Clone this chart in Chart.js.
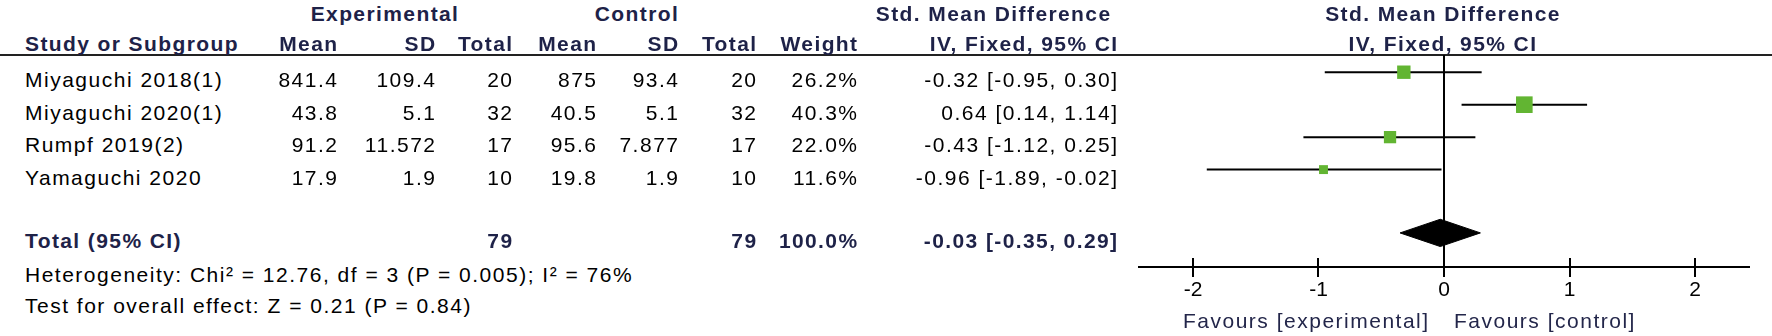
<!DOCTYPE html>
<html lang="en">
  <head>
    <meta charset="UTF-8" />
    <title>Std. Mean Difference forest plot</title>
    <style>
      html, body { margin: 0; padding: 0; background: #fff; }
      #wrap { position: relative; width: 1772px; height: 336px; overflow: hidden; }
      #plot { position: absolute; left: 1100px; top: 0; }
      .t {
        position: absolute;
        white-space: nowrap;
        font: 21px/21px "Liberation Sans", Arial, sans-serif;
        letter-spacing: 1.5px;
        color: #000;
      }
      .b { font-weight: bold; letter-spacing: 1.4px; color: #1e2248; }
      .fav { color: #23264a; }
      .rule { position: absolute; left: 0; top: 54px; width: 1772px; height: 2px; background: #222; }
    </style>
  </head>
  <body>
    <div id="wrap">
      <div class="rule"></div>
      <canvas id="plot" width="672" height="336"></canvas>
    </div>

    <script src="https://cdn.jsdelivr.net/npm/chart.js"></script>
    <script>
      // study rows
      const studies = ["Miyaguchi 2018(1)", "Miyaguchi 2020(1)", "Rumpf 2019(2)", "Yamaguchi 2020"];
      const expMean = [841.4, 43.8, 91.2, 17.9];
      const expSD = [109.4, 5.1, 11.572, 1.9];
      const expTotal = [20, 32, 17, 10];
      const ctlMean = [875, 40.5, 95.6, 19.8];
      const ctlSD = [93.4, 5.1, 7.877, 1.9];
      const ctlTotal = [20, 32, 17, 10];
      const weight = [26.2, 40.3, 22.0, 11.6];
      const smd = [-0.32, 0.64, -0.43, -0.96];
      const ciLow = [-0.95, 0.14, -1.12, -1.89];
      const ciHigh = [0.30, 1.14, 0.25, -0.02];

      // pooled result
      const totalExp = 79;
      const totalCtl = 79;
      const totalWeight = 100.0;
      const totalSmd = -0.03;
      const totalLow = -0.35;
      const totalHigh = 0.29;

      const xTicks = [-2, -1, 0, 1, 2];
      const heterogeneity = "Heterogeneity: Chi\u00b2 = 12.76, df = 3 (P = 0.005); I\u00b2 = 76%";
      const overallTest = "Test for overall effect: Z = 0.21 (P = 0.84)";
      const favoursLeft = "Favours [experimental]";
      const favoursRight = "Favours [control]";

      const W = 1772;
      const wrap = document.getElementById("wrap");

      function put(txt, x, y, align, cls) {
        const d = document.createElement("div");
        d.className = "t" + (cls ? " " + cls : "");
        d.textContent = txt;
        d.style.top = y - 10 + "px";
        if (align === "right") {
          d.style.right = W - x - 1.5 + "px";
        } else if (align === "center") {
          d.style.left = x + "px";
          d.style.transform = "translateX(-50%)";
        } else {
          d.style.left = x + "px";
        }
        wrap.appendChild(d);
      }

      const fmtCI = (m, lo, hi) => m.toFixed(2) + " [" + lo.toFixed(2) + ", " + hi.toFixed(2) + "]";

      // header
      put("Experimental", 385, 13, "center", "b");
      put("Control", 637, 13, "center", "b");
      put("Std. Mean Difference", 1110, 13, "right", "b");
      put("Std. Mean Difference", 1443, 13, "center", "b");
      put("Study or Subgroup", 25, 43, "left", "b");
      put("Mean", 337, 43, "right", "b");
      put("SD", 435, 43, "right", "b");
      put("Total", 512, 43, "right", "b");
      put("Mean", 596, 43, "right", "b");
      put("SD", 678, 43, "right", "b");
      put("Total", 756, 43, "right", "b");
      put("Weight", 857, 43, "right", "b");
      put("IV, Fixed, 95% CI", 1117, 43, "right", "b");
      put("IV, Fixed, 95% CI", 1443, 43, "center", "b");

      // rows
      studies.forEach((s, i) => {
        const y = 79 + i * 32.67;
        put(s, 25, y, "left");
        put(String(expMean[i]), 337, y, "right");
        put(String(expSD[i]), 435, y, "right");
        put(String(expTotal[i]), 512, y, "right");
        put(String(ctlMean[i]), 596, y, "right");
        put(String(ctlSD[i]), 678, y, "right");
        put(String(ctlTotal[i]), 756, y, "right");
        put(weight[i].toFixed(1) + "%", 857, y, "right");
        put(fmtCI(smd[i], ciLow[i], ciHigh[i]), 1117, y, "right");
      });

      put("Total (95% CI)", 25, 240, "left", "b");
      put(String(totalExp), 512, 240, "right", "b");
      put(String(totalCtl), 756, 240, "right", "b");
      put(totalWeight.toFixed(1) + "%", 857, 240, "right", "b");
      put(fmtCI(totalSmd, totalLow, totalHigh), 1117, 240, "right", "b");
      put(heterogeneity, 25, 274, "left");
      put(overallTest, 25, 305, "left");
      put(favoursLeft, 1183, 320, "left", "fav");
      put(favoursRight, 1454, 320, "left", "fav");

      // forest plot
      const totalRow = 4.95;
      const diamondHalf = 0.42;
      const green = "#62b532";

      const datasets = [
        {
          label: "SMD",
          data: smd.map((v, i) => ({ x: v, y: i })),
          pointStyle: "rect",
          pointRadius: weight.map((w) => 1.85 * Math.sqrt(w)),
          pointHoverRadius: weight.map((w) => 1.85 * Math.sqrt(w)),
          backgroundColor: green,
          borderWidth: 0,
          order: 0,
        },
        ...studies.map((s, i) => ({
          type: "line",
          label: s,
          data: [
            { x: ciLow[i], y: i },
            { x: ciHigh[i], y: i },
          ],
          borderColor: "#000",
          borderWidth: 2,
          pointRadius: 0,
          fill: false,
          order: 1,
        })),
        {
          type: "line",
          label: "Total",
          data: [
            { x: totalLow, y: totalRow },
            { x: totalSmd, y: totalRow - diamondHalf },
            { x: totalHigh, y: totalRow },
            { x: totalSmd, y: totalRow + diamondHalf },
            { x: totalLow, y: totalRow },
          ],
          borderColor: "#000",
          backgroundColor: "#000",
          borderWidth: 1,
          pointRadius: 0,
          tension: 0,
          fill: "shape",
          order: 1,
        },
      ];

      const crossTicks = {
        id: "crossTicks",
        afterDraw(chart) {
          const { ctx, chartArea } = chart;
          const xs = chart.scales.x;
          ctx.save();
          ctx.strokeStyle = "#000";
          ctx.lineWidth = 2;
          xTicks.forEach((v) => {
            const px = Math.round(xs.getPixelForValue(v));
            ctx.beginPath();
            ctx.moveTo(px, chartArea.bottom - 9);
            ctx.lineTo(px, chartArea.bottom + 10);
            ctx.stroke();
          });
          ctx.restore();
        },
      };

      new Chart(document.getElementById("plot"), {
        type: "scatter",
        data: { datasets },
        options: {
          responsive: false,
          animation: false,
          layout: { padding: { top: 55, left: 39, right: 23, bottom: 0 } },
          plugins: { legend: { display: false }, tooltip: { enabled: false } },
          scales: {
            x: {
              type: "linear",
              min: -2.43,
              max: 2.43,
              afterBuildTicks: (s) => {
                s.ticks = xTicks.map((v) => ({ value: v }));
              },
              afterFit: (s) => {
                s.height = 69;
              },
              border: { display: true, color: "#000", width: 2 },
              grid: {
                drawTicks: false,
                lineWidth: 2,
                color: (c) => (c.tick && c.tick.value === 0 ? "#000" : "rgba(0,0,0,0)"),
              },
              ticks: {
                padding: 11,
                color: "#000",
                font: { family: "'Liberation Sans', Arial, sans-serif", size: 21 },
                callback: (v) => String(v),
              },
            },
            y: {
              type: "linear",
              display: false,
              reverse: true,
              min: -0.53,
              max: 6.0,
            },
          },
        },
        plugins: [crossTicks],
      });
    </script>
  </body>
</html>
